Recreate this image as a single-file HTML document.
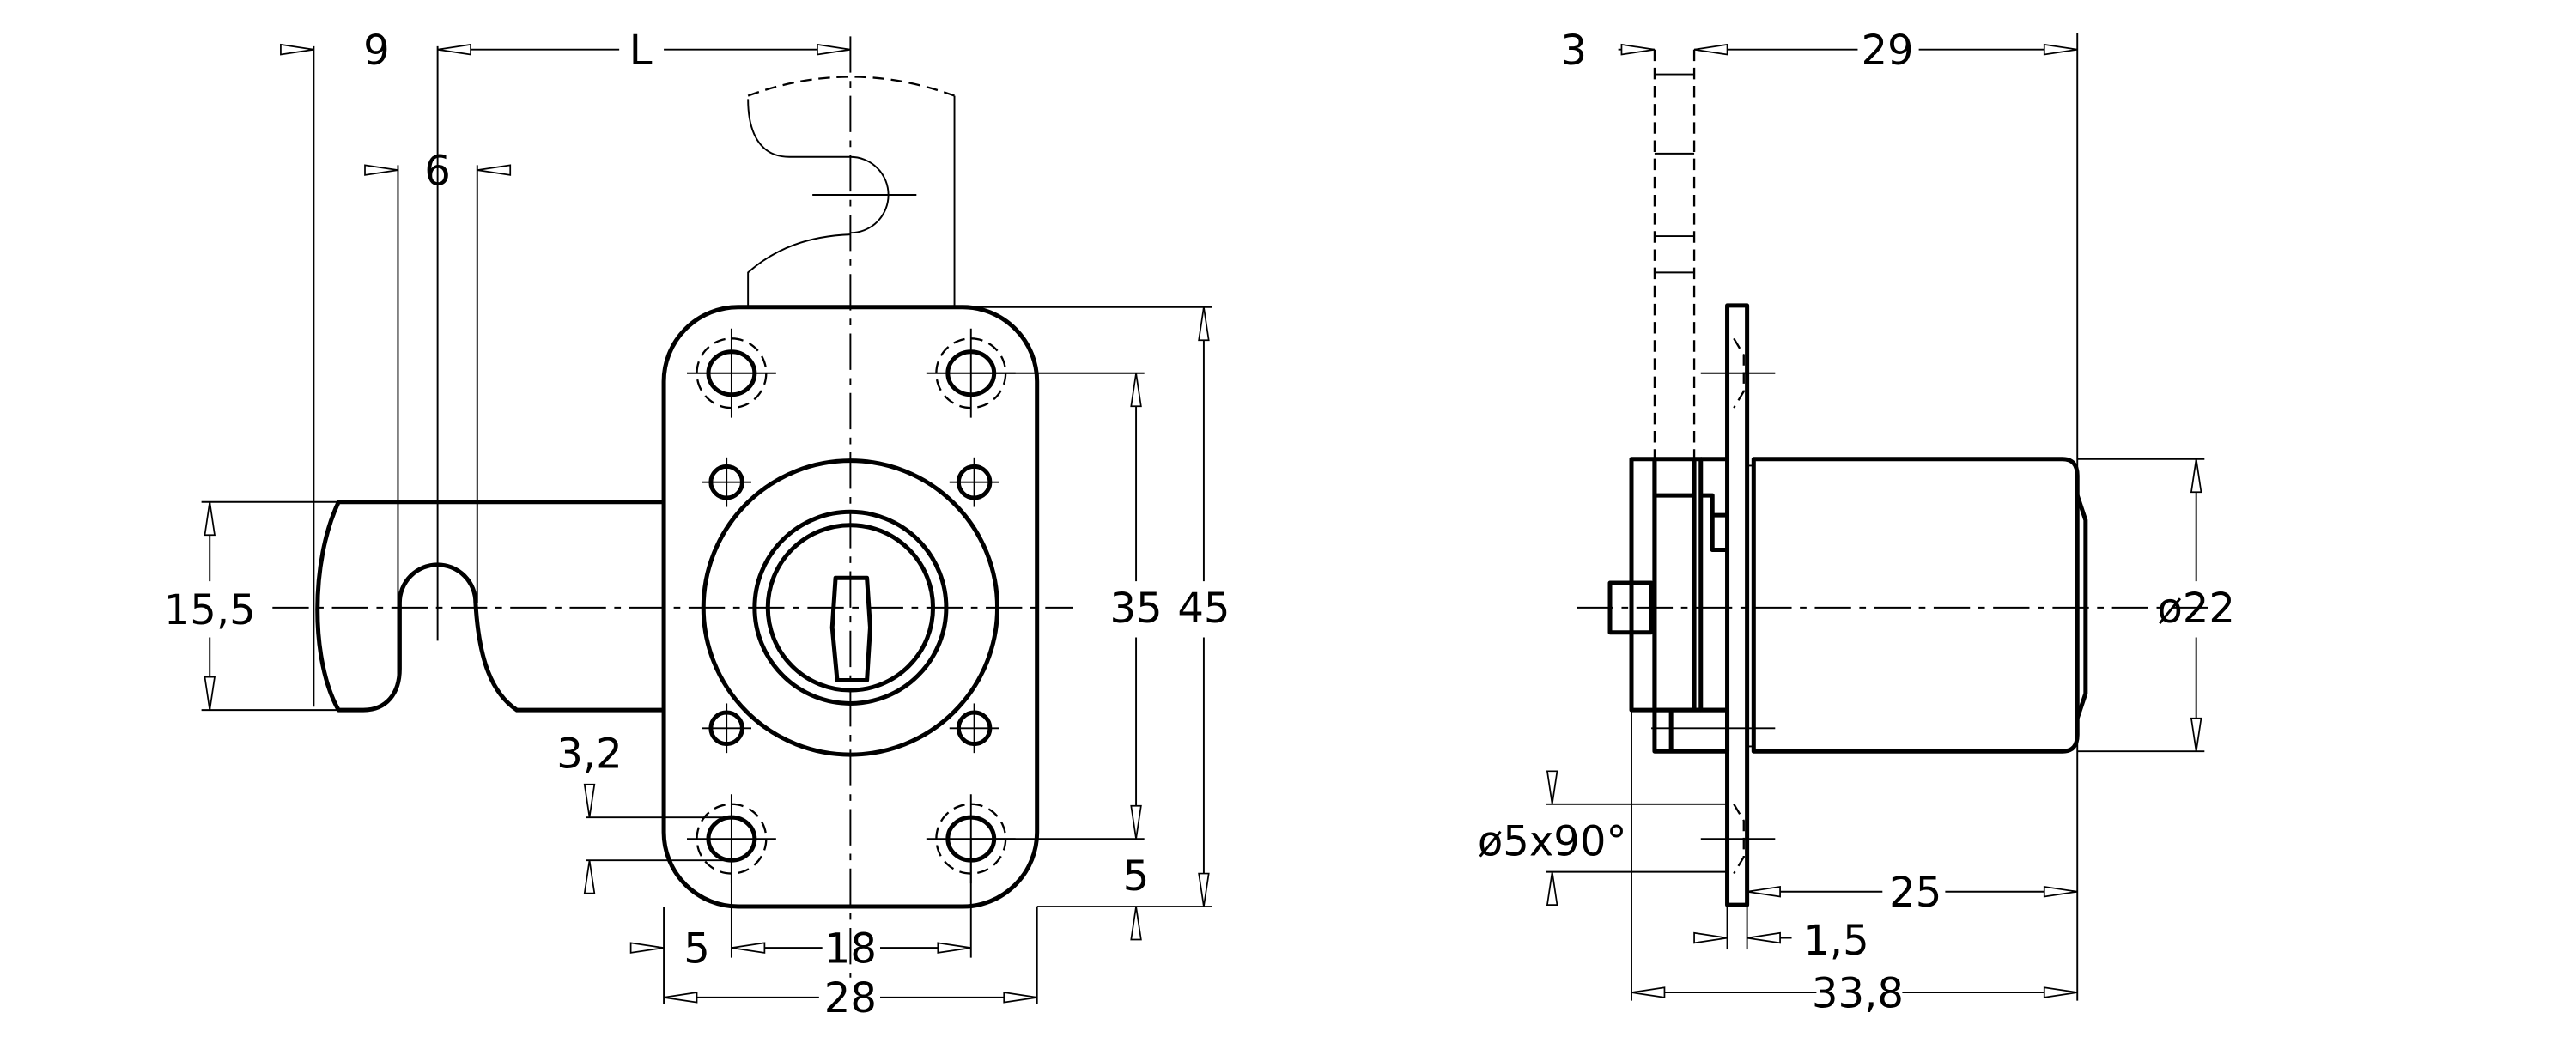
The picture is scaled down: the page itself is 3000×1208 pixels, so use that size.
<!DOCTYPE html>
<html><head><meta charset="utf-8"><style>
html,body{margin:0;padding:0;background:#fff;}
svg{display:block;}
text{font-family:"DejaVu Sans","Liberation Sans",sans-serif;font-size:25px;fill:#000;text-anchor:middle;}
.k{stroke:#000;stroke-width:2.6;fill:none;stroke-linejoin:round;}
.t{stroke:#000;stroke-width:1;fill:none;}
.c{stroke:#000;stroke-width:1;fill:none;stroke-dasharray:22 5 4 5;}
.d{stroke:#000;stroke-width:1.2;fill:none;stroke-dasharray:7 4;}
.a{stroke:#000;stroke-width:0.9;fill:#fff;}
</style></head><body>
<svg width="3000" height="1208" viewBox="0 0 1560 628" preserveAspectRatio="none" xmlns="http://www.w3.org/2000/svg">
<defs>
<path id="ar" d="M0,0 L-20,-3 L-20,3 Z" class="a"/>
<g id="csk"><ellipse cx="0" cy="0" rx="14" ry="13" class="k" stroke-width="2.2"/><circle r="21" class="d" stroke-width="1.6"/><line x1="-27" y1="0" x2="27" y2="0" class="t" stroke-width="1.3"/><line x1="0" y1="-27" x2="0" y2="27" class="t" stroke-width="1.3"/></g>
<g id="sh"><circle r="9.5" class="k" stroke-width="2"/><line x1="-15" y1="0" x2="15" y2="0" class="t" stroke-width="1.3"/><line x1="0" y1="-15" x2="0" y2="15" class="t" stroke-width="1.3"/></g>
<g id="shb"><circle r="9.5" class="k" stroke-width="4"/><line x1="-15" y1="0" x2="15" y2="0" class="t" stroke-width="1.3"/><line x1="0" y1="-15" x2="0" y2="15" class="t" stroke-width="1.3"/></g>
</defs>

<!-- FRONT VIEW -->
<rect x="402" y="186" width="226" height="363" rx="45" class="k"/>
<!-- top tab -->
<path d="M453,186 L453,165 C470,150 490,143 515,142" class="t"/>
<path d="M453,60 C453,80 460,95 478,95 L515,95 A23,23 0 0 1 515,141" class="t"/>
<line x1="578" y1="58" x2="578" y2="186" class="t"/>
<path d="M453,58 Q515,35 578,58" class="d" stroke-width="1"/>
<line x1="492" y1="118" x2="555" y2="118" class="t"/>
<!-- centerlines -->
<line x1="515" y1="22" x2="515" y2="592" class="c"/>
<line x1="165" y1="368" x2="650" y2="368" class="c"/>
<!-- holes -->
<use href="#csk" x="443" y="226"/><use href="#csk" x="588" y="226"/>
<use href="#csk" x="443" y="508"/><use href="#csk" x="588" y="508"/>
<use href="#sh" x="440" y="292"/><use href="#shb" x="590" y="292"/>
<use href="#shb" x="440" y="441"/><use href="#sh" x="590" y="441"/>
<!-- rosette -->
<circle cx="515" cy="368" r="89" class="k" stroke-width="2.2"/>
<circle cx="515" cy="368" r="58" class="k" stroke-width="3"/>
<circle cx="515" cy="368" r="50" class="k" stroke-width="2"/>
<path d="M506,350 L525,350 L527,380 L525,412 L507,412 L504,380 Z" class="k" stroke-width="2.2"/>
<!-- bolt -->
<path d="M402,304 L205,304 C188,340 188,400 205,430 L220,430 C234,430 242,420 242,405 L242,365 A23,23 0 0 1 288,365 C290,400 298,420 313,430 L402,430" class="k"/>

<!-- dims front -->
<line x1="190" y1="28" x2="190" y2="428" class="t"/>
<line x1="265" y1="28" x2="265" y2="388" class="t"/>
<line x1="241" y1="100" x2="241" y2="410" class="t"/>
<line x1="289" y1="100" x2="289" y2="365" class="t"/>
<line x1="172" y1="30" x2="190" y2="30" class="t"/>
<use href="#ar" transform="translate(190,30)"/>
<text x="228" y="39">9</text>
<line x1="265" y1="30" x2="375" y2="30" class="t"/><line x1="402" y1="30" x2="515" y2="30" class="t"/>
<use href="#ar" transform="translate(265,30) rotate(180)"/>
<use href="#ar" transform="translate(515,30)"/>
<text x="388" y="39">L</text>
<use href="#ar" transform="translate(241,103)"/>
<use href="#ar" transform="translate(289,103) rotate(180)"/>
<text x="265" y="112">6</text>
<!-- 15,5 -->
<line x1="122" y1="304" x2="205" y2="304" class="t"/>
<line x1="122" y1="430" x2="205" y2="430" class="t"/>
<line x1="127" y1="304" x2="127" y2="352" class="t"/><line x1="127" y1="386" x2="127" y2="430" class="t"/>
<use href="#ar" transform="translate(127,304) rotate(-90)"/>
<use href="#ar" transform="translate(127,430) rotate(90)"/>
<text x="127" y="378">15,5</text>
<!-- 3,2 -->
<line x1="355" y1="495" x2="443" y2="495" class="t"/>
<line x1="355" y1="521" x2="443" y2="521" class="t"/>
<use href="#ar" transform="translate(357,495) rotate(90)"/>
<use href="#ar" transform="translate(357,521) rotate(-90)"/>
<text x="357" y="465">3,2</text>
<!-- 35, 45, 5 -->
<line x1="588" y1="226" x2="693" y2="226" class="t"/>
<line x1="588" y1="508" x2="693" y2="508" class="t"/>
<line x1="578" y1="186" x2="734" y2="186" class="t"/>
<line x1="628" y1="549" x2="734" y2="549" class="t"/>
<line x1="688" y1="226" x2="688" y2="352" class="t"/><line x1="688" y1="386" x2="688" y2="508" class="t"/>
<use href="#ar" transform="translate(688,226) rotate(-90)"/>
<use href="#ar" transform="translate(688,508) rotate(90)"/>
<text x="688" y="377">35</text>
<line x1="729" y1="186" x2="729" y2="352" class="t"/><line x1="729" y1="386" x2="729" y2="549" class="t"/>
<use href="#ar" transform="translate(729,186) rotate(-90)"/>
<use href="#ar" transform="translate(729,549) rotate(90)"/>
<text x="729" y="377">45</text>
<use href="#ar" transform="translate(688,549) rotate(-90)"/>
<text x="688" y="539">5</text>
<!-- bottom dims -->
<line x1="402" y1="549" x2="402" y2="608" class="t"/>
<line x1="443" y1="508" x2="443" y2="580" class="t"/>
<line x1="588" y1="508" x2="588" y2="580" class="t"/>
<line x1="628" y1="549" x2="628" y2="608" class="t"/>
<use href="#ar" transform="translate(402,574)"/>
<text x="422" y="583">5</text>
<line x1="443" y1="574" x2="498" y2="574" class="t"/><line x1="533" y1="574" x2="588" y2="574" class="t"/>
<use href="#ar" transform="translate(443,574) rotate(180)"/>
<use href="#ar" transform="translate(588,574)"/>
<text x="515" y="583">18</text>
<line x1="402" y1="604" x2="496" y2="604" class="t"/><line x1="533" y1="604" x2="628" y2="604" class="t"/>
<use href="#ar" transform="translate(402,604) rotate(180)"/>
<use href="#ar" transform="translate(628,604)"/>
<text x="515" y="613">28</text>

<!-- SIDE VIEW -->
<line x1="1002" y1="30" x2="1002" y2="278" class="d"/>
<line x1="1026" y1="30" x2="1026" y2="278" class="d"/>
<line x1="1002" y1="45" x2="1026" y2="45" class="t"/>
<line x1="1002" y1="93" x2="1026" y2="93" class="t"/>
<line x1="1002" y1="143" x2="1026" y2="143" class="t"/>
<line x1="1002" y1="165" x2="1026" y2="165" class="t"/>
<line x1="955" y1="368" x2="1340" y2="368" class="c"/>
<rect x="1046" y="185" width="12" height="363" class="k"/>
<path d="M1062,278 L1249,278 Q1258,278 1258,288 L1258,445 Q1258,455 1249,455 L1062,455 Z" class="k"/>
<path d="M1058,282 L1062,282 M1058,452 L1062,452" class="t"/>
<path d="M1258,300 L1263,315 L1263,420 L1258,435" class="k" stroke-width="2"/>
<rect x="988" y="278" width="14" height="152" class="k"/>
<rect x="1002" y="278" width="28" height="152" class="k"/>
<line x1="1002" y1="300" x2="1026" y2="300" class="k"/>
<line x1="1026" y1="278" x2="1026" y2="430" class="k" stroke-width="1.6"/>
<path d="M1030,278 L1046,278 M1030,430 L1046,430" class="k" stroke-width="1.6"/>
<path d="M1030,300 L1037,300 L1037,312 L1046,312 M1037,312 L1037,333 L1046,333" class="k" stroke-width="1.6"/>
<rect x="975" y="353" width="25" height="30" class="k" stroke-width="2.2"/>
<rect x="1002" y="430" width="44" height="25" class="k"/>
<line x1="1012" y1="430" x2="1012" y2="455" class="k"/>
<line x1="1000" y1="441" x2="1075" y2="441" class="t"/>
<line x1="1030" y1="226" x2="1075" y2="226" class="t"/>
<line x1="1030" y1="508" x2="1075" y2="508" class="t"/>
<path d="M1050,205 L1056,215 L1056,237 L1050,247" class="d" stroke-width="1"/>
<path d="M1050,487 L1056,497 L1056,519 L1050,529" class="d" stroke-width="1"/>
<!-- side dims -->
<line x1="1258" y1="20" x2="1258" y2="606" class="t"/>
<line x1="988" y1="430" x2="988" y2="606" class="t"/>
<line x1="980" y1="30" x2="1002" y2="30" class="t"/>
<use href="#ar" transform="translate(1002,30)"/>
<text x="953" y="39">3</text>
<line x1="1026" y1="30" x2="1125" y2="30" class="t"/><line x1="1162" y1="30" x2="1258" y2="30" class="t"/>
<use href="#ar" transform="translate(1026,30) rotate(180)"/>
<use href="#ar" transform="translate(1258,30)"/>
<text x="1143" y="39">29</text>
<line x1="1258" y1="278" x2="1335" y2="278" class="t"/>
<line x1="1258" y1="455" x2="1335" y2="455" class="t"/>
<line x1="1330" y1="278" x2="1330" y2="352" class="t"/><line x1="1330" y1="386" x2="1330" y2="455" class="t"/>
<use href="#ar" transform="translate(1330,278) rotate(-90)"/>
<use href="#ar" transform="translate(1330,455) rotate(90)"/>
<text x="1330" y="377">ø22</text>
<line x1="1058" y1="540" x2="1140" y2="540" class="t"/><line x1="1178" y1="540" x2="1258" y2="540" class="t"/>
<use href="#ar" transform="translate(1058,540) rotate(180)"/>
<use href="#ar" transform="translate(1258,540)"/>
<text x="1160" y="549">25</text>
<line x1="1046" y1="548" x2="1046" y2="575" class="t"/>
<line x1="1058" y1="548" x2="1058" y2="575" class="t"/>
<use href="#ar" transform="translate(1046,568)"/>
<line x1="1058" y1="568" x2="1085" y2="568" class="t"/>
<use href="#ar" transform="translate(1058,568) rotate(180)"/>
<text x="1112" y="578">1,5</text>
<line x1="988" y1="601" x2="1100" y2="601" class="t"/><line x1="1152" y1="601" x2="1258" y2="601" class="t"/>
<use href="#ar" transform="translate(988,601) rotate(180)"/>
<use href="#ar" transform="translate(1258,601)"/>
<text x="1125" y="610">33,8</text>
<line x1="936" y1="487" x2="1046" y2="487" class="t"/>
<line x1="936" y1="528" x2="1046" y2="528" class="t"/>
<use href="#ar" transform="translate(940,487) rotate(90)"/>
<use href="#ar" transform="translate(940,528) rotate(-90)"/>
<text x="940" y="518">ø5x90°</text>
</svg>
</body></html>
